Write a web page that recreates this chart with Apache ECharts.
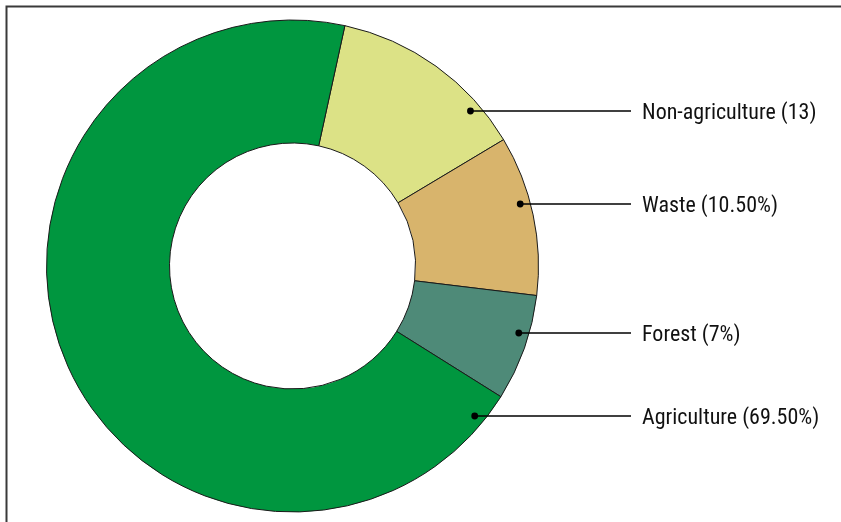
<!DOCTYPE html>
<html>
<head>
<meta charset="utf-8">
<script src="https://cdn.jsdelivr.net/npm/echarts@6/dist/echarts.min.js"></script>
<style>
html,body{margin:0;padding:0;background:#fff;}
#chart{width:841px;height:522px;}
</style>
</head>
<body>
<div id="chart"></div>
<script>
// ---- data ----
var categories = ['Non-agriculture', 'Waste', 'Forest', 'Agriculture'];
var values = [13, 10.5, 7, 69.5];
var labelTexts = ['Non-agriculture (13)', 'Waste (10.50%)', 'Forest (7%)', 'Agriculture (69.50%)'];

// ---- layout / style ----
var colors = ['#dce286', '#d8b46c', '#4e8a78', '#00963f'];
var CX = 292.5, CY = 266, R_OUT = 246, R_IN = 123, R_DOT = 236;
var labelY = [111, 204, 333, 416];
var LINE_END_X = 631, TEXT_X = 642;

function dotX(i) {
  var dy = labelY[i] - CY;
  return CX + Math.sqrt(R_DOT * R_DOT - dy * dy);
}

var chart = echarts.init(document.getElementById('chart'), null, {renderer: 'canvas'});

var dataItems = categories.map(function (c, i) {
  return {name: c, value: values[i], itemStyle: {color: colors[i]}};
});

var graphics = [{
  type: 'rect',
  shape: {x: 6.5, y: 6.5, width: 1000, height: 1000},
  style: {fill: 'none', stroke: '#3a3a3a', lineWidth: 2},
  silent: true,
  z: 100
}];
categories.forEach(function (c, i) {
  graphics.push({
    type: 'line',
    shape: {x1: dotX(i), y1: labelY[i], x2: LINE_END_X, y2: labelY[i]},
    style: {stroke: '#000', lineWidth: 1.5},
    z: 100
  });
  graphics.push({
    type: 'circle',
    shape: {cx: dotX(i), cy: labelY[i], r: 3.4},
    style: {fill: '#000'},
    z: 101
  });
});

chart.setOption({
  animation: false,
  backgroundColor: '#fff',
  graphic: graphics,
  series: [{
    type: 'pie',
    center: [CX, CY],
    radius: [R_IN, R_OUT],
    startAngle: 77.7,
    clockwise: true,
    avoidLabelOverlap: false,
    data: dataItems,
    itemStyle: {borderColor: '#1a1a1a', borderWidth: 1},
    label: {
      show: true,
      position: 'outside',
      formatter: function (p) { return labelTexts[p.dataIndex]; },
      fontFamily: 'Roboto Condensed',
      fontSize: 22,
      color: '#111'
    },
    labelLine: {show: false},
    labelLayout: function (p) {
      var i = p.dataIndex;
      return {
        x: TEXT_X,
        y: labelY[i] + 2,
        align: 'left',
        verticalAlign: 'middle'
      };
    },
    emphasis: {disabled: true}
  }]
});
</script>
</body>
</html>
